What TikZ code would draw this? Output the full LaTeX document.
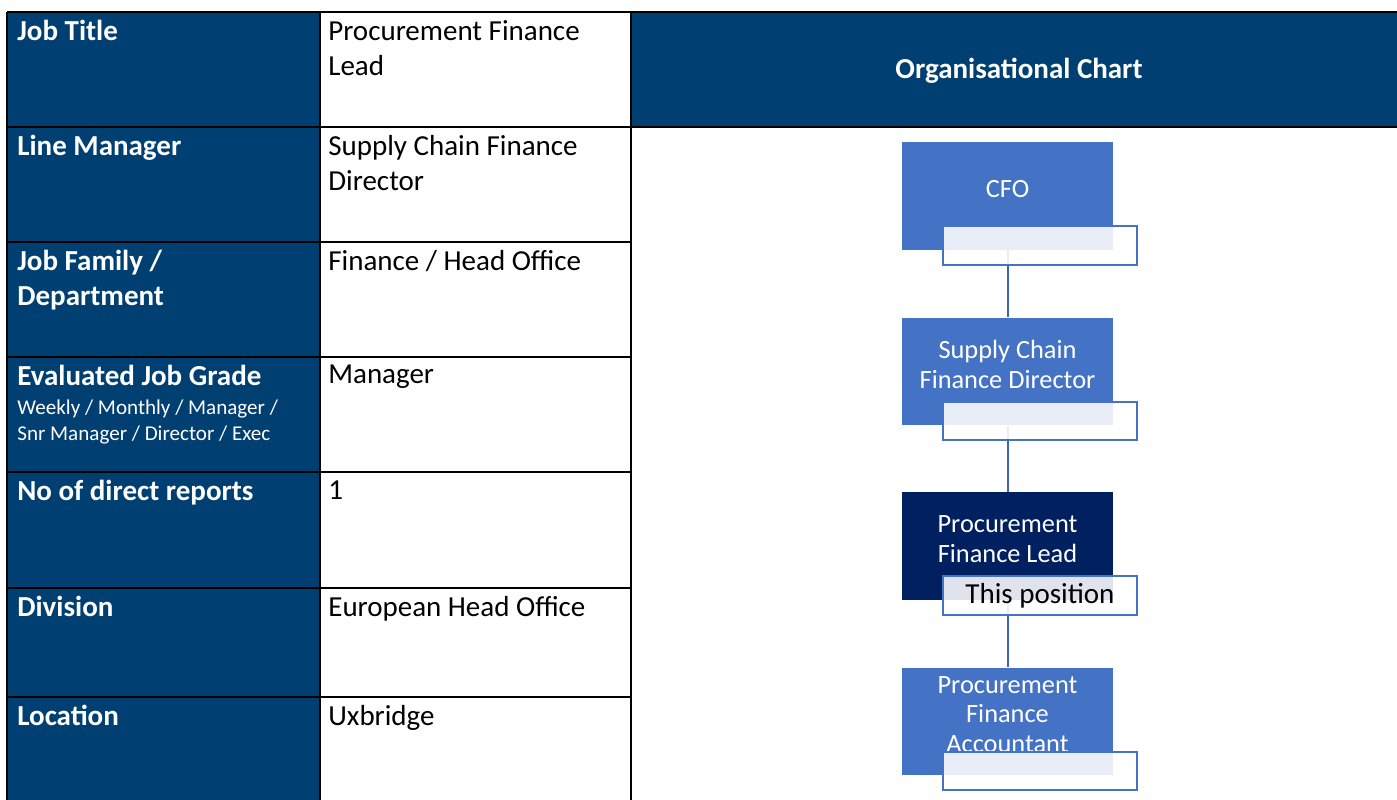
\documentclass[tikz,border=0pt]{standalone}
\usepackage{fontspec}
\setmainfont{Carlito}
\definecolor{headnavy}{HTML}{003F72}
\definecolor{orgblue}{HTML}{4472C4}
\definecolor{orgnavy}{HTML}{002060}
\definecolor{orgline}{HTML}{3C64B0}
\begin{document}
\begin{tikzpicture}[x=0.02cm, y=-0.02cm]
    \tikzstyle{fieldname}=[anchor=north west, inner sep=0pt, align=left, text=white, font=\fontsize{16.5}{20}\selectfont\bfseries]
    \tikzstyle{fieldvalue}=[anchor=north west, inner sep=0pt, align=left, text=black, font=\fontsize{16.5}{20}\selectfont]
    \tikzstyle{gridline}=[black, line width=0.04cm]
    \tikzstyle{orgbox}=[rectangle, minimum width=4.22cm, minimum height=2.16cm, inner sep=0pt]
    \tikzstyle{orgtext}=[align=center, text=white, inner sep=0pt, font=\fontsize{15}{16.8}\selectfont]
    \tikzstyle{posbox}=[rectangle, draw=orgblue, line width=0.04cm, fill=white, fill opacity=0.88, text opacity=1, minimum width=3.88cm, minimum height=0.78cm, inner sep=0pt, font=\fontsize{16.5}{20}\selectfont]

    \useasboundingbox (0,0) rectangle (1397,800);
    \fill[headnavy] (7,12) rectangle (320,800);
    \fill[headnavy] (631,12) rectangle (1397,127);

    % table grid
    \draw[gridline] (7,12) -- (1397,12);
    \draw[gridline] (7,127) -- (1397,127);
    \foreach \y in {242, 357, 472, 588, 697}
    \draw[gridline] (7,\y) -- (631,\y);
    \foreach \x in {7, 320, 631}
    \draw[gridline] (\x,12) -- (\x,800);

    \foreach \name/\y/\field/\value in {title/12/Job Title/{Procurement Finance\\Lead}, manager/127/Line Manager/{Supply Chain Finance\\Director}, family/242/{Job Family /\\Department}/{Finance / Head Office}, grade/357/Evaluated Job Grade/Manager, reports/472/No of direct reports/1, division/588/Division/European Head Office, location/697/Location/Uxbridge}
    {
    \node[fieldname] (\name-field) at (17,\y+8) {\field};
    \node[fieldvalue] (\name-value) at (328,\y+8) {\value};
    }
    \node[anchor=north west, inner sep=0pt, align=left, text=white, font=\fontsize{12}{14.8}\selectfont] (grade-note) at (17,400) {Weekly / Monthly / Manager /\\Snr Manager / Director / Exec};

    \node[text=white, font=\fontsize{16.5}{20}\selectfont\bfseries] (chart) at (1019,71) {Organisational Chart};

    % org chart
    \foreach \name/\y/\colour/\text in {cfo/196/orgblue/CFO, scfd/371.5/orgblue/{Supply Chain\\Finance Director}, pfl/546/orgnavy/{Procurement\\Finance Lead}, pfa/721.5/orgblue/{Procurement\\Finance\\Accountant}}
    {
    \node[orgbox, fill=\colour] (\name) at (1007.5,\y) {};
    \node[orgtext] (\name-text) at (1007.5,\y-7) {\text};
    }

    \foreach \from/\to in {cfo/scfd, scfd/pfl, pfl/pfa}
    \draw[orgline, line width=0.04cm] (\from) -- (\to);

    \foreach \name/\tag in {cfo/{}, scfd/{}, pfl/This position, pfa/{}}
    \node[posbox] (\name-tag) at ([shift={(32.5,49.5)}]\name.center) {\tag};
\end{tikzpicture}
\end{document}
